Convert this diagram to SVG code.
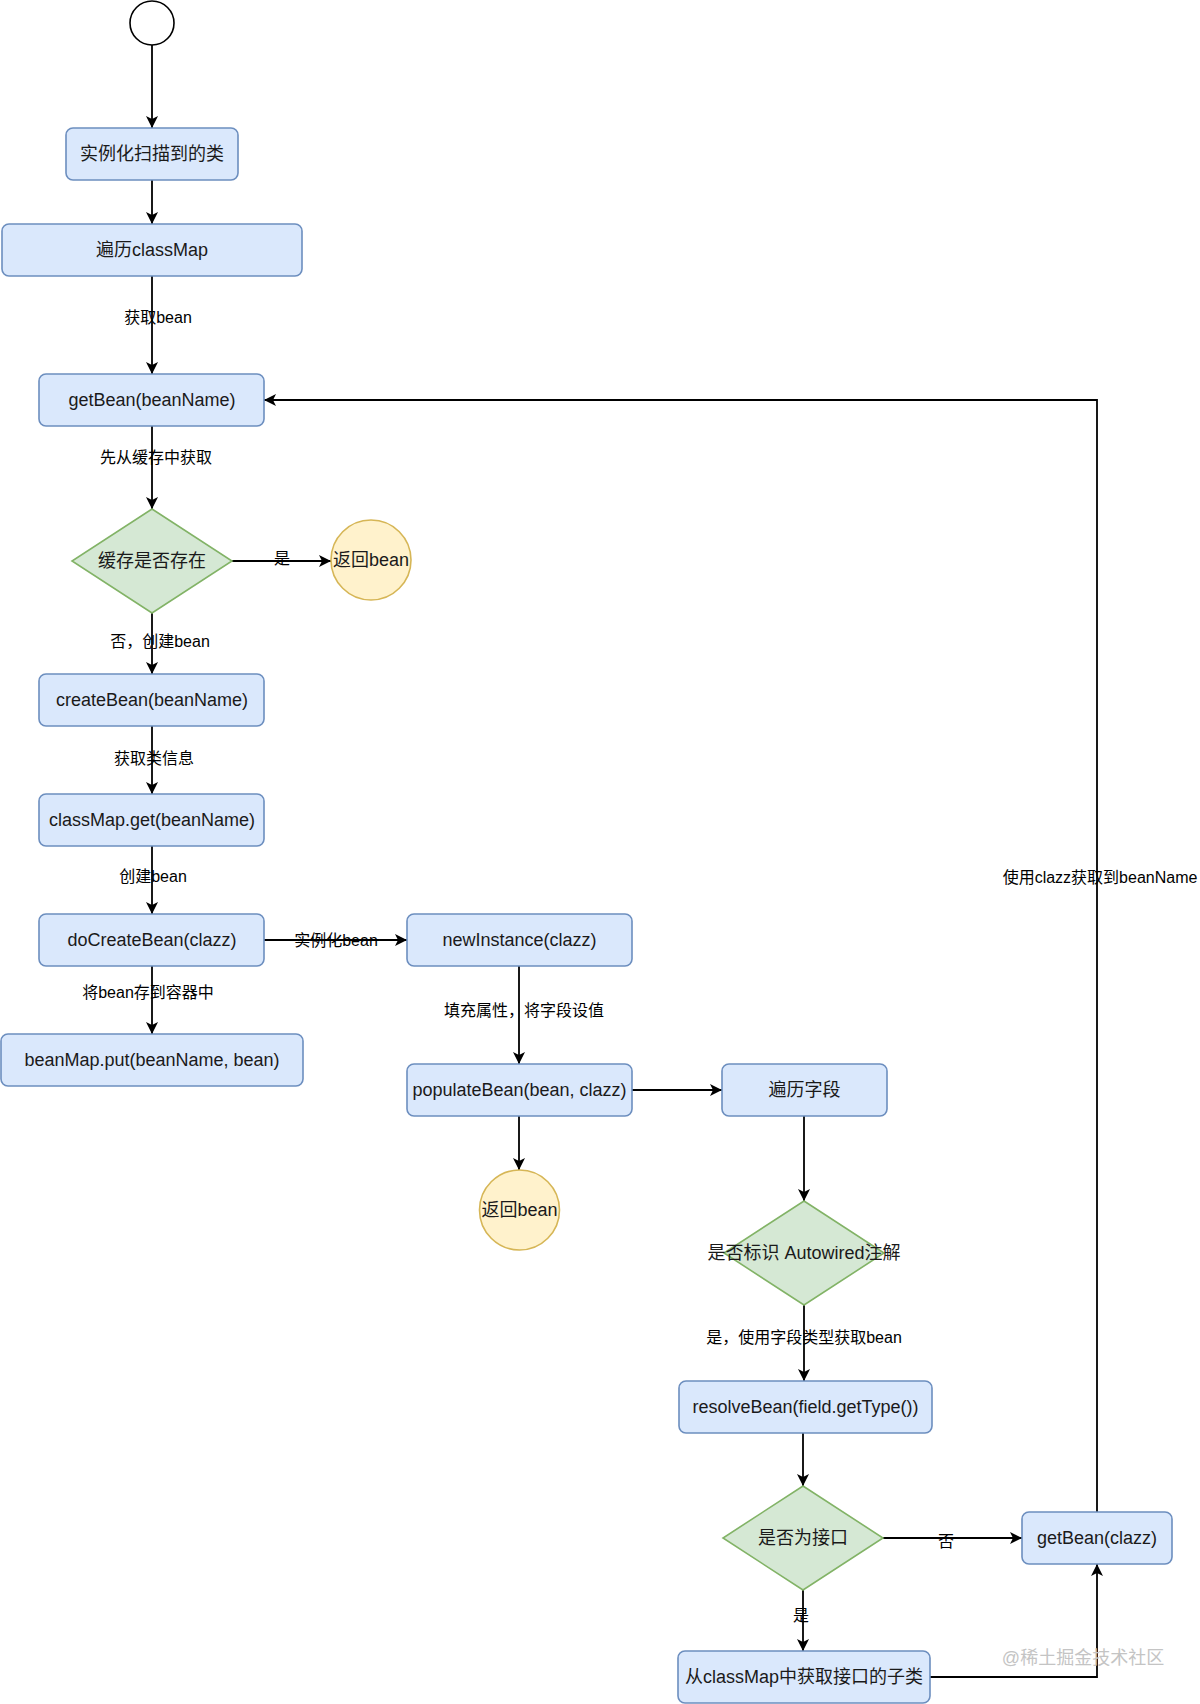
<svg xmlns="http://www.w3.org/2000/svg" width="1200" height="1704" viewBox="0 0 1200 1704">
<defs>
<marker id="arr" markerUnits="userSpaceOnUse" markerWidth="14" markerHeight="12" refX="12" refY="6" orient="auto">
<path d="M0,0 L12,6 L0,12 L3,6 Z" fill="#000"/>
</marker>
<style>
.box{fill:#dae8fc;stroke:#6c8ebf;stroke-width:1.6}
.dia{fill:#d5e8d4;stroke:#82b366;stroke-width:1.6}
.ret{fill:#fff2cc;stroke:#d6b656;stroke-width:1.6}
.start{fill:#fff;stroke:#000;stroke-width:1.6}
.t{font-family:"Liberation Sans","Noto Sans CJK SC",sans-serif;font-size:18px;fill:#1a1a1a;text-anchor:middle;dominant-baseline:central}
.lbl{font-family:"Liberation Sans","Noto Sans CJK SC",sans-serif;font-size:16px;fill:#000;text-anchor:middle;dominant-baseline:central}
.e{fill:none;stroke:#000;stroke-width:1.8;marker-end:url(#arr)}
.wm{font-family:"Liberation Sans","Noto Sans CJK SC",sans-serif;font-size:18px;fill:#c4c4c4;text-anchor:middle;dominant-baseline:central}
</style>
</defs>
<g id="connectors">
<path class="e" d="M152,45 L152,128"/>
<path class="e" d="M152,180 L152,224"/>
<path class="e" d="M152,276 L152,374"/>
<path class="e" d="M152,426 L152,509"/>
<path class="e" d="M232,561 L331,561"/>
<path class="e" d="M152,613 L152,674"/>
<path class="e" d="M152,726 L152,794"/>
<path class="e" d="M152,846 L152,914"/>
<path class="e" d="M264,940 L407,940"/>
<path class="e" d="M152,966 L152,1034"/>
<path class="e" d="M519,966 L519,1064"/>
<path class="e" d="M632,1090 L722,1090"/>
<path class="e" d="M519,1116 L519,1170"/>
<path class="e" d="M804,1116 L804,1201"/>
<path class="e" d="M804,1305 L804,1381"/>
<path class="e" d="M803,1433 L803,1486"/>
<path class="e" d="M883,1538 L1022,1538"/>
<path class="e" d="M803,1590 L803,1651"/>
<path class="e" d="M930,1677 L1097,1677 L1097,1564"/>
<path class="e" d="M1097,1512 L1097,400 L264,400"/>
<text class="lbl" x="158" y="317">获取bean</text>
<text class="lbl" x="156" y="457">先从缓存中获取</text>
<text class="lbl" x="282" y="558">是</text>
<text class="lbl" x="160" y="641">否，创建bean</text>
<text class="lbl" x="154" y="758">获取类信息</text>
<text class="lbl" x="153" y="876">创建bean</text>
<text class="lbl" x="336" y="940">实例化bean</text>
<text class="lbl" x="148" y="992">将bean存到容器中</text>
<text class="lbl" x="524" y="1010">填充属性，将字段设值</text>
<text class="lbl" x="804" y="1337">是，使用字段类型获取bean</text>
<text class="lbl" x="946" y="1541">否</text>
<text class="lbl" x="801" y="1615">是</text>
<text class="lbl" x="1100" y="877">使用clazz获取到beanName</text>
</g>
<g id="start"><circle class="start" cx="152" cy="23" r="22"/></g>
<g id="n-scan"><rect class="box" x="66" y="128" width="172" height="52" rx="7"/><text class="t" x="152" y="154">实例化扫描到的类</text></g>
<g id="n-iter"><rect class="box" x="2" y="224" width="300" height="52" rx="7"/><text class="t" x="152" y="250">遍历classMap</text></g>
<g id="n-getbean"><rect class="box" x="39" y="374" width="225" height="52" rx="7"/><text class="t" x="152" y="400">getBean(beanName)</text></g>
<g id="n-cache"><polygon class="dia" points="152,509 232,561 152,613 72,561"/><text class="t" x="152" y="561">缓存是否存在</text></g>
<g id="n-ret1"><circle class="ret" cx="371" cy="560" r="40"/><text class="t" x="371" y="560">返回bean</text></g>
<g id="n-create"><rect class="box" x="39" y="674" width="225" height="52" rx="7"/><text class="t" x="152" y="700">createBean(beanName)</text></g>
<g id="n-classget"><rect class="box" x="39" y="794" width="225" height="52" rx="7"/><text class="t" x="152" y="820">classMap.get(beanName)</text></g>
<g id="n-docreate"><rect class="box" x="39" y="914" width="225" height="52" rx="7"/><text class="t" x="152" y="940">doCreateBean(clazz)</text></g>
<g id="n-put"><rect class="box" x="1" y="1034" width="302" height="52" rx="7"/><text class="t" x="152" y="1060">beanMap.put(beanName, bean)</text></g>
<g id="n-newinst"><rect class="box" x="407" y="914" width="225" height="52" rx="7"/><text class="t" x="519.5" y="940">newInstance(clazz)</text></g>
<g id="n-populate"><rect class="box" x="407" y="1064" width="225" height="52" rx="7"/><text class="t" x="519.5" y="1090">populateBean(bean, clazz)</text></g>
<g id="n-ret2"><circle class="ret" cx="519.5" cy="1210" r="40"/><text class="t" x="519.5" y="1210">返回bean</text></g>
<g id="n-fields"><rect class="box" x="722" y="1064" width="165" height="52" rx="7"/><text class="t" x="804.5" y="1090">遍历字段</text></g>
<g id="n-autowired"><polygon class="dia" points="804,1201 884,1253 804,1305 724,1253"/><text class="t" x="804" y="1253">是否标识 Autowired注解</text></g>
<g id="n-resolve"><rect class="box" x="679" y="1381" width="253" height="52" rx="7"/><text class="t" x="805.5" y="1407">resolveBean(field.getType())</text></g>
<g id="n-iface"><polygon class="dia" points="803,1486 883,1538 803,1590 723,1538"/><text class="t" x="803" y="1538">是否为接口</text></g>
<g id="n-getclazz"><rect class="box" x="1022" y="1512" width="150" height="52" rx="7"/><text class="t" x="1097" y="1538">getBean(clazz)</text></g>
<g id="n-sub"><rect class="box" x="678" y="1651" width="252" height="52" rx="7"/><text class="t" x="804" y="1677">从classMap中获取接口的子类</text></g>
<text class="wm" x="1083" y="1658">@稀土掘金技术社区</text>
</svg>
